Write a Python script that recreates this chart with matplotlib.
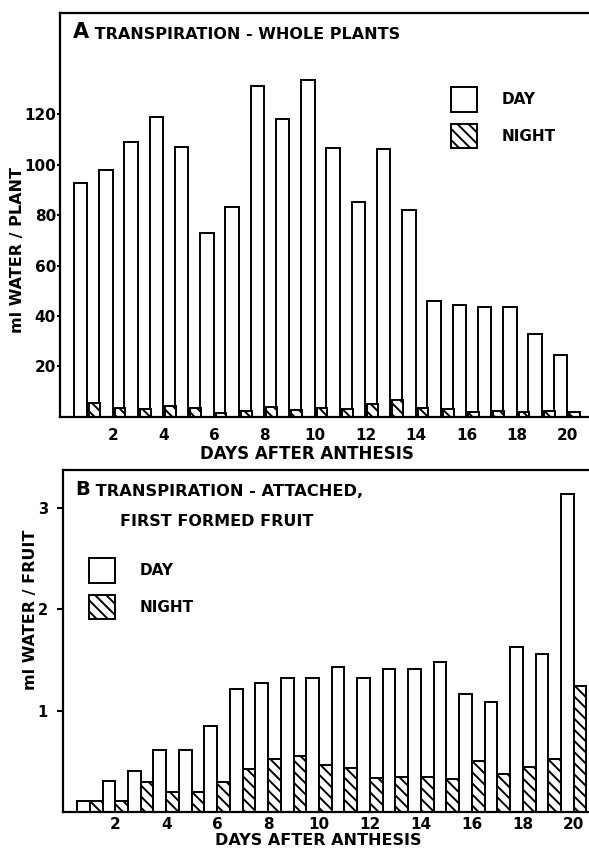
import numpy as np
import matplotlib.pyplot as plt
from matplotlib.patches import Patch

plt.rcParams['font.family'] = 'DejaVu Sans'
plt.rcParams['font.weight'] = 'bold'
plt.rcParams['axes.labelweight'] = 'bold'
plt.rcParams['hatch.linewidth'] = 1.4

# days after anthesis
days = np.arange(1, 21)

# A: whole plants, ml water / plant
plant_day = [92.5, 98, 109, 119, 107, 73, 83, 131, 118, 133.5,
             106.5, 85, 106, 82, 46, 44.5, 43.5, 43.5, 33, 24.5]
plant_night = [5.7, 3.4, 3.0, 4.4, 3.7, 1.7, 2.4, 4.0, 2.8, 3.7,
               3.0, 5.3, 6.6, 3.4, 3.0, 2.1, 2.4, 2.0, 2.4, 2.1]

# B: attached, first formed fruit, ml water / fruit
fruit_day = [0.11, 0.31, 0.40, 0.61, 0.61, 0.85, 1.21, 1.27, 1.32, 1.32,
             1.43, 1.32, 1.41, 1.41, 1.48, 1.16, 1.08, 1.63, 1.56, 3.13]
fruit_night = [0.11, 0.11, 0.30, 0.20, 0.20, 0.30, 0.42, 0.52, 0.55, 0.46,
               0.43, 0.34, 0.35, 0.35, 0.33, 0.50, 0.37, 0.44, 0.52, 1.24]

xticks = [2, 4, 6, 8, 10, 12, 14, 16, 18, 20]

fig = plt.figure(figsize=(5.89, 8.51), dpi=100)

# ---- panel A ----
ax1 = fig.add_axes([0.102, 0.510, 0.898, 0.4747])
ax1.bar(days - 0.55, plant_day, width=0.53, align='edge', color='white',
        edgecolor='black', linewidth=1.4)
ax1.bar(days + 0.06, plant_night, width=0.43, align='edge', color='white',
        edgecolor='black', linewidth=1.4, hatch='\\\\\\')
ax1.set_xlim(-0.1, 20.85)
ax1.set_ylim(0, 160)
ax1.set_yticks([20, 40, 60, 80, 100, 120])
ax1.set_xticks(xticks)
ax1.tick_params(axis='y', labelsize=11, length=2, width=1.5, pad=1)
ax1.tick_params(axis='x', labelsize=11, length=0, pad=8)
ax1.spines['right'].set_visible(False)
for s in ['left', 'top', 'bottom']:
    ax1.spines[s].set_linewidth(1.6)
ax1.set_ylabel('ml WATER / PLANT', fontsize=11.5)
ax1.yaxis.set_label_coords(-0.066, 0.413)
ax1.set_xlabel('DAYS AFTER ANTHESIS', fontsize=12)
ax1.xaxis.set_label_coords(0.467, -0.069)

tA = ax1.text(0.025, 0.953, 'A', transform=ax1.transAxes, fontsize=15,
              va='center', ha='left')
ax1.annotate(' TRANSPIRATION - WHOLE PLANTS', xy=(1, 0), xycoords=tA,
             va='bottom', ha='left', fontsize=11.5)

handles = [Patch(facecolor='white', edgecolor='black', linewidth=1.4, label='DAY'),
           Patch(facecolor='white', edgecolor='black', linewidth=1.4, hatch='\\\\\\',
                 label='NIGHT')]
ax1.legend(handles=handles, loc='upper left', bbox_to_anchor=(0.739, 0.817),
           frameon=False, fontsize=11, handlelength=1.7, handleheight=2.1,
           handletextpad=1.6, labelspacing=0.8, borderpad=0, borderaxespad=0)

# ---- panel B ----
ax2 = fig.add_axes([0.107, 0.0458, 0.893, 0.4019])
ax2.bar(days - 0.5, fruit_day, width=0.5, align='edge', color='white',
        edgecolor='black', linewidth=1.4)
ax2.bar(days, fruit_night, width=0.5, align='edge', color='white',
        edgecolor='black', linewidth=1.4, hatch='\\\\\\')
ax2.set_xlim(-0.05, 20.6)
ax2.set_ylim(0, 3.37)
ax2.set_yticks([1, 2, 3])
ax2.set_xticks(xticks)
ax2.tick_params(axis='y', labelsize=10.5, length=4, width=1.5, pad=7)
ax2.tick_params(axis='x', labelsize=11, length=0, pad=3.5)
ax2.spines['right'].set_visible(False)
for s in ['left', 'top', 'bottom']:
    ax2.spines[s].set_linewidth(1.6)
ax2.set_ylabel('ml WATER / FRUIT', fontsize=11.5)
ax2.yaxis.set_label_coords(-0.048, 0.59)
ax2.set_xlabel('DAYS AFTER ANTHESIS', fontsize=11.5)
ax2.xaxis.set_label_coords(0.485, -0.062)

tB = ax2.text(0.023, 0.942, 'B', transform=ax2.transAxes, fontsize=14,
              va='center', ha='left')
ax2.annotate(' TRANSPIRATION - ATTACHED,', xy=(1, 0), xycoords=tB,
             va='bottom', ha='left', fontsize=11.7)
ax2.text(0.108, 0.848, 'FIRST FORMED FRUIT', transform=ax2.transAxes,
         fontsize=11.5, va='center', ha='left')

ax2.legend(handles=handles, loc='upper left', bbox_to_anchor=(0.049, 0.743),
           frameon=False, fontsize=11, handlelength=1.7, handleheight=2.1,
           handletextpad=1.6, labelspacing=0.8, borderpad=0, borderaxespad=0)

fig.savefig('out.png', dpi=100)
